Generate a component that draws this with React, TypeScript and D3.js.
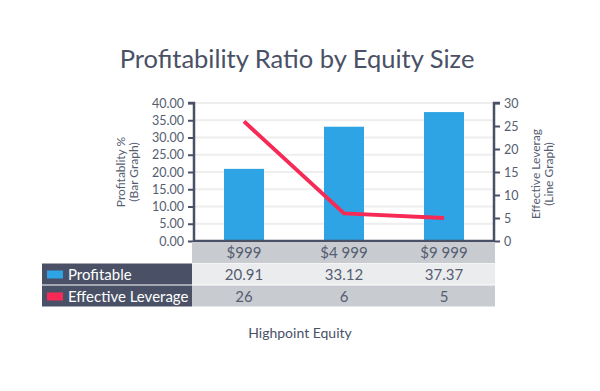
import * as d3 from "d3";
import { useEffect, useRef } from "react";

const categories = ["$999", "$4 999", "$9 999"];
const profitable = [20.91, 33.12, 37.37];
const leverage = [26, 6, 5];
const leftTicks = [0, 5, 10, 15, 20, 25, 30, 35, 40];
const rightTicks = [0, 5, 10, 15, 20, 25, 30];

const dark = "#4a5166";
const textCol = "#555d70";
const blue = "#2ea4e4";
const red = "#f72a55";

const App = () => {
  const ref = useRef<SVGSVGElement | null>(null);

  useEffect(() => {
    const svg = d3.select(ref.current);
    svg.selectAll("*").remove();
    const font = "Lato, 'Open Sans', sans-serif";

    const x0 = 194, x1 = 494, yTop = 103, yBot = 241;
    const x = d3.scaleBand().domain(categories).range([x0, x1]).paddingInner(0.6).paddingOuter(0.3);
    const xb = d3.scaleBand().domain(categories).range([x0, x1]);
    const yL = d3.scaleLinear().domain([0, 40]).range([yBot, yTop]);
    const yR = d3.scaleLinear().domain([0, 30]).range([yBot, yTop]);

    svg.append("text").attr("x", 297).attr("y", 68).attr("text-anchor", "middle")
      .attr("font-family", font).attr("font-size", 25.5).attr("fill", dark)
      .text("Profitability Ratio by Equity Size");

    // grid
    svg.append("g").selectAll("line").data(leftTicks.slice(1)).join("line")
      .attr("x1", x0).attr("x2", x1).attr("y1", d => yL(d)).attr("y2", d => yL(d))
      .attr("stroke", "#eeeeee").attr("stroke-width", 2);

    // bars
    svg.append("g").selectAll("rect").data(profitable).join("rect")
      .attr("x", (_, i) => x(categories[i])!).attr("width", x.bandwidth())
      .attr("y", d => yL(d)).attr("height", d => yBot - yL(d)).attr("fill", blue);

    // line
    const line = d3.line<number>()
      .x((_, i) => xb(categories[i])! + xb.bandwidth() / 2)
      .y(d => yR(d));
    svg.append("path").datum(leverage).attr("d", line).attr("fill", "none")
      .attr("stroke", red).attr("stroke-width", 4);

    // axes
    const gl = svg.append("g").attr("transform", `translate(${x0},0)`)
      .call(d3.axisLeft(yL).tickValues(leftTicks).tickFormat(d => (d as number).toFixed(2)).tickSize(6).tickPadding(4));
    const gr = svg.append("g").attr("transform", `translate(${x1},0)`)
      .call(d3.axisRight(yR).tickValues(rightTicks).tickSize(6).tickPadding(4));
    [gl, gr].forEach(g => {
      g.select(".domain").attr("stroke", dark).attr("stroke-width", 2.5)
        .attr("d", g === gl ? `M-6,${yTop}H0V${yBot}` : `M6,${yTop}H0V${yBot}`);
      g.selectAll(".tick line").attr("stroke", dark).attr("stroke-width", 2);
      g.selectAll(".tick text").attr("fill", textCol).attr("font-size", 12.5).attr("font-family", font);
    });
    svg.append("line").attr("x1", x0).attr("x2", x1).attr("y1", yBot).attr("y2", yBot)
      .attr("stroke", dark).attr("stroke-width", 2.5);

    // axis titles
    const leftT = svg.append("text").attr("transform", `translate(127,172) rotate(-90)`)
      .attr("text-anchor", "middle").attr("font-family", font).attr("font-size", 12).attr("fill", textCol);
    leftT.append("tspan").attr("x", 0).attr("dy", -2).text("Profitablity %");
    leftT.append("tspan").attr("x", 0).attr("dy", 13).text("(Bar Graph)");
    const rightT = svg.append("text").attr("transform", `translate(542,174) rotate(-90)`)
      .attr("text-anchor", "middle").attr("font-family", font).attr("font-size", 12).attr("fill", textCol);
    rightT.append("tspan").attr("x", 0).attr("dy", -2).text("Effective Leverag");
    rightT.append("tspan").attr("x", 0).attr("dy", 13).text("(Line Graph)");

    // data table
    const rows = [
      { label: null as string | null, color: "", vals: categories, bg: "#c8cbd0" },
      { label: "Profitable", color: blue, vals: profitable.map(v => v.toFixed(2)), bg: "#ebecee" },
      { label: "Effective Leverage", color: red, vals: leverage.map(String), bg: "#c8cbd0" },
    ];
    const rowTop = [242, 263.5, 285.5];
    const rowH = 21;
    const tbl = svg.append("g");
    rows.forEach((r, ri) => {
      const y0 = rowTop[ri];
      if (r.label) {
        tbl.append("rect").attr("x", 42).attr("y", y0).attr("width", 150).attr("height", rowH).attr("fill", dark);
        tbl.append("rect").attr("x", 47).attr("y", y0 + 7).attr("width", 16).attr("height", 8).attr("fill", r.color);
        tbl.append("text").attr("x", 68).attr("y", y0 + 16).attr("font-family", font).attr("font-size", 15)
          .attr("fill", "#ffffff").text(r.label);
      }
      r.vals.forEach((v, ci) => {
        const cx = xb(categories[ci])!;
        tbl.append("rect").attr("x", cx - 2 + (ci === 0 ? 0 : 1)).attr("y", y0)
          .attr("width", xb.bandwidth() + (ci === 0 ? 1 : 0) + (ci === 2 ? 2 : 0)).attr("height", rowH).attr("fill", r.bg);
        tbl.append("text").attr("x", cx + xb.bandwidth() / 2).attr("y", y0 + 16).attr("text-anchor", "middle")
          .attr("font-family", font).attr("font-size", 15).attr("fill", textCol).text(v);
      });
    });

    svg.append("text").attr("x", 300).attr("y", 338).attr("text-anchor", "middle")
      .attr("font-family", font).attr("font-size", 14).attr("fill", dark).text("Highpoint Equity");
  }, []);

  return (
    <svg ref={ref} width={600} height={391} style={{ position: "absolute", left: 0, top: 0, background: "#fff" }} />
  );
};

export default App;
